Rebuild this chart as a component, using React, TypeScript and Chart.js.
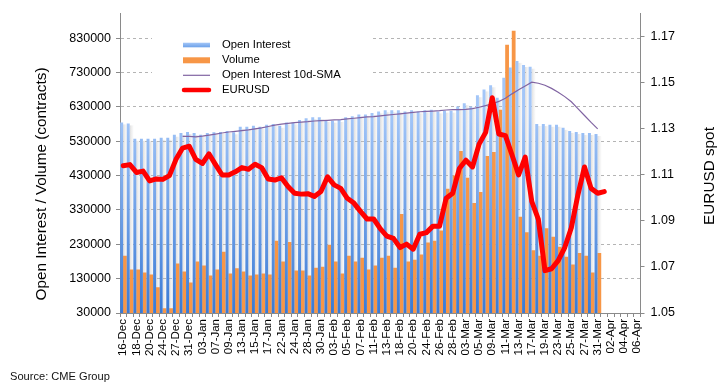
import React, { useEffect, useRef } from 'react';
import { Chart, registerables } from 'chart.js';

Chart.register(...registerables);

const categories = [
  '16-Dec','17-Dec','18-Dec','19-Dec','20-Dec','23-Dec','24-Dec','26-Dec','27-Dec','30-Dec','31-Dec',
  '02-Jan','03-Jan','06-Jan','07-Jan','08-Jan','09-Jan','10-Jan','13-Jan','14-Jan','15-Jan','16-Jan','17-Jan',
  '21-Jan','22-Jan','23-Jan','24-Jan','27-Jan','28-Jan','29-Jan','30-Jan','31-Jan',
  '03-Feb','04-Feb','05-Feb','06-Feb','07-Feb','10-Feb','11-Feb','12-Feb','13-Feb','14-Feb',
  '18-Feb','19-Feb','20-Feb','21-Feb','24-Feb','25-Feb','26-Feb','27-Feb','28-Feb',
  '02-Mar','03-Mar','04-Mar','05-Mar','06-Mar','09-Mar','10-Mar','11-Mar','12-Mar','13-Mar',
  '16-Mar','17-Mar','18-Mar','19-Mar','20-Mar','23-Mar','24-Mar','25-Mar','26-Mar','27-Mar','30-Mar','31-Mar',
  '01-Apr','02-Apr','03-Apr','04-Apr','05-Apr','06-Apr'
];

const openInterest = [
  585000, 582000, 537000, 537000, 537000, 537000, 540000, 540000, 549000, 554000,
  557000, 554000, 549000, 554000, 556000, 557000, 560000, 556000, 572000, 572000,
  575000, 572000, 578000, 580000, 575000, 585000, 585000, 592000, 597000, 600000,
  600000, 592000, 590000, 592000, 600000, 603000, 608000, 608000, 612000, 617000,
  620000, 620000, 620000, 617000, 620000, 617000, 620000, 622000, 617000, 619000,
  619000, 631000, 641000, 631000, 664000, 681000, 693000, 657000, 715000, 745000,
  764000, 752000, 747000, 580000, 580000, 578000, 578000, 569000, 560000, 557000,
  554000, 554000, 551000
];

const volume = [
  197000, 157000, 157000, 148000, 142000, 105000, 44000, 44000, 174000, 151000,
  119000, 180000, 168000, 139000, 157000, 208000, 145000, 160000, 151000, 139000,
  142000, 145000, 142000, 240000, 180000, 237000, 154000, 154000, 139000, 162000,
  165000, 229000, 180000, 145000, 197000, 180000, 191000, 157000, 168000, 191000,
  197000, 162000, 318000, 180000, 185000, 200000, 235000, 240000, 270000, 392000,
  430000, 502000, 424000, 350000, 382000, 487000, 499000, 622000, 811000, 852000,
  310000, 265000, 213000, 197000, 277000, 252000, 223000, 194000, 171000, 205000,
  197000, 148000, 205000
];

const oiSma10d = [
  null, null, null, null, null, null, null, null, null, 544000,
  544000, 543000, 545000, 548000, 551000, 554000, 557000, 559000, 561000, 563000,
  566000, 569000, 573000, 577000, 580000, 582000, 584000, 586000, 587000, 589000,
  590000, 591000, 592000, 593000, 595000, 597000, 599000, 601000, 602000, 604000,
  606000, 608000, 610000, 612000, 614000, 616000, 617000, 618000, 619000, 621000,
  622000, 622000, 623000, 625000, 629000, 634000, 639000, 646000, 655000, 668000,
  680000, 691000, 702000, 699000, 693000, 684000, 673000, 660000, 645000, 625000,
  605000, 585000, 566000
];

const eurusd = [
  1.1139, 1.1144, 1.1110, 1.1116, 1.1073, 1.1082, 1.1080, 1.1096, 1.1167, 1.1216,
  1.1224, 1.1167, 1.1149, 1.1191, 1.1144, 1.1099, 1.1099, 1.1113, 1.1131, 1.1124,
  1.1146, 1.1131, 1.1082, 1.1077, 1.1087, 1.1049, 1.1020, 1.1016, 1.1018, 1.1006,
  1.1027, 1.1091, 1.1056, 1.1041, 1.0998, 1.0977, 1.0941, 1.0908, 1.0908, 1.0866,
  1.0834, 1.0824, 1.0784, 1.0799, 1.0777, 1.0842, 1.0849, 1.0877, 1.0877, 1.0998,
  1.1020, 1.1127, 1.1163, 1.1134, 1.1233, 1.1284, 1.1434, 1.1277, 1.1270, 1.1186,
  1.1099, 1.1177, 1.0984, 1.0906, 1.0684, 1.0692, 1.0727, 1.0784, 1.0870, 1.1013,
  1.1134, 1.1041, 1.1020, 1.1027
];

const leftTicks = [30000, 130000, 230000, 330000, 430000, 530000, 630000, 730000, 830000];
const rightTicks = [1.05, 1.07, 1.09, 1.11, 1.13, 1.15, 1.17];

const FONT = '"Liberation Sans", Arial, sans-serif';

export default function App() {
  const ref = useRef<HTMLCanvasElement>(null);

  useEffect(() => {
    const canvas = ref.current;
    if (!canvas) return;

    const blueFill = (ctx: any) => {
      const chart = ctx.chart;
      const a = chart.chartArea;
      if (!a) return '#7aa9ee';
      const g = chart.ctx.createLinearGradient(0, a.top + 100, 0, a.bottom);
      g.addColorStop(0, '#a3c6f8');
      g.addColorStop(1, '#3a7ad5');
      return g;
    };

    const shadowPlugin = {
      id: 'barShadow',
      beforeDatasetsDraw(chart: any) {
        const meta = chart.getDatasetMeta(0);
        const ctx = chart.ctx;
        const bottom = chart.chartArea.bottom;
        ctx.save();
        meta.data.forEach((bar: any) => {
          const p = bar.getProps(['x', 'y', 'width'], true);
          const x0 = p.x + p.width / 2;
          const g = ctx.createLinearGradient(x0, 0, x0 + 3.8, 0);
          g.addColorStop(0, 'rgba(175,175,175,0.42)');
          g.addColorStop(1, 'rgba(215,215,215,0.12)');
          ctx.fillStyle = g;
          ctx.fillRect(x0, p.y + 2, 3.8, bottom - p.y - 2);
        });
        ctx.restore();
      },
    };

    const decoPlugin = {
      id: 'deco',
      afterDraw(chart: any) {
        const ctx = chart.ctx;
        ctx.save();
        // legend
        ctx.fillStyle = '#ffffff';
        ctx.fillRect(152, 37, 218, 62);
        const lx0 = 183, lx1 = 210, tx = 222;
        const rows = [45, 60.3, 75.3, 90];
        const lg = ctx.createLinearGradient(0, rows[0] - 2.5, 0, rows[0] + 2.5);
        lg.addColorStop(0, '#a6c8f8');
        lg.addColorStop(1, '#6a9fe8');
        ctx.fillStyle = lg;
        ctx.fillRect(lx0, rows[0] - 2.3, lx1 - lx0, 4.6);
        ctx.fillStyle = '#f79646';
        ctx.fillRect(lx0, rows[1] - 3, lx1 - lx0, 6);
        ctx.strokeStyle = '#8064a2';
        ctx.lineWidth = 1.2;
        ctx.beginPath();
        ctx.moveTo(lx0, rows[2]);
        ctx.lineTo(lx1, rows[2]);
        ctx.stroke();
        ctx.strokeStyle = '#ff0000';
        ctx.lineWidth = 4.5;
        ctx.lineCap = 'round';
        ctx.beginPath();
        ctx.moveTo(lx0 + 1, rows[3]);
        ctx.lineTo(lx1 - 1, rows[3]);
        ctx.stroke();
        ctx.fillStyle = '#000';
        ctx.font = `11.3px ${FONT}`;
        ctx.textBaseline = 'middle';
        ctx.textAlign = 'left';
        ['Open Interest', 'Volume', 'Open Interest 10d-SMA', 'EURUSD'].forEach((t, i) => {
          ctx.fillText(t, tx, rows[i]);
        });
        // axis titles
        ctx.font = `15.3px ${FONT}`;
        ctx.textAlign = 'center';
        ctx.textBaseline = 'middle';
        ctx.save();
        ctx.translate(42, 184);
        ctx.rotate(-Math.PI / 2);
        ctx.fillText('Open Interest / Volume (contracts)', 0, 0);
        ctx.restore();
        ctx.save();
        ctx.translate(710, 176);
        ctx.rotate(-Math.PI / 2);
        ctx.fillText('EURUSD spot', 0, 0);
        ctx.restore();
        // source
        ctx.font = `11.1px ${FONT}`;
        ctx.textAlign = 'left';
        ctx.fillStyle = '#111';
        ctx.fillText('Source: CME Group', 10, 377);
        ctx.restore();
      },
    };

    const chart = new Chart(canvas, {
      type: 'bar',
      data: {
        labels: categories,
        datasets: [
          {
            type: 'bar',
            label: 'Open Interest',
            data: openInterest,
            yAxisID: 'y',
            backgroundColor: blueFill,
            order: 2,
            barPercentage: 0.9,
            categoryPercentage: 1,
          } as any,
          {
            type: 'bar',
            label: 'Volume',
            data: volume,
            yAxisID: 'y',
            backgroundColor: '#f79646',
            order: 2,
            barPercentage: 1.15,
            categoryPercentage: 1,
          } as any,
          {
            type: 'line',
            label: 'Open Interest 10d-SMA',
            data: oiSma10d,
            yAxisID: 'y',
            borderColor: '#8064a2',
            borderWidth: 1.2,
            pointRadius: 0,
            order: 1,
          } as any,
          {
            type: 'line',
            label: 'EURUSD',
            data: eurusd,
            yAxisID: 'y1',
            borderColor: '#ff0000',
            borderWidth: 5,
            pointRadius: 0,
            borderJoinStyle: 'round',
            borderCapStyle: 'round',
            order: 0,
          } as any,
        ],
      },
      options: {
        responsive: false,
        animation: false,
        events: [],
        layout: { padding: { top: 10, left: 0, right: 0, bottom: 0 } },
        plugins: { legend: { display: false }, tooltip: { enabled: false } },
        scales: {
          x: {
            type: 'category',
            offset: true,
            grid: {
              display: true,
              drawOnChartArea: false,
              drawTicks: true,
              tickLength: 4,
              tickColor: '#8a8a8a',
              offset: true,
            },
            border: { color: '#8a8a8a', width: 1 },
            ticks: {
              autoSkip: false,
              minRotation: 90,
              maxRotation: 90,
              padding: 2,
              color: '#000',
              font: { family: FONT, size: 11.5 },
              callback: (_v: any, i: number) => (i % 2 === 0 ? categories[i] : ''),
            },
            afterFit: (s: any) => {
              s.height = 77;
            },
          },
          y: {
            type: 'linear',
            position: 'left',
            min: 30000,
            max: 902000,
            afterBuildTicks: (s: any) => {
              s.ticks = leftTicks.map((v) => ({ value: v }));
            },
            grid: {
              color: '#b4b4b4',
              lineWidth: 1,
              drawTicks: true,
              tickLength: 4,
              tickColor: '#8a8a8a',
              tickBorderDash: [],
            },
            border: { color: '#8a8a8a', width: 1, dash: [3, 3] },
            ticks: {
              padding: 5,
              color: '#000',
              font: { family: FONT, size: 12.5 },
              callback: (v: any) => String(v),
            },
            afterFit: (s: any) => {
              s.width = 120;
            },
          },
          y1: {
            type: 'linear',
            position: 'right',
            min: 1.05,
            max: 1.18,
            afterBuildTicks: (s: any) => {
              s.ticks = rightTicks.map((v) => ({ value: v }));
            },
            grid: {
              drawOnChartArea: false,
              drawTicks: true,
              tickLength: 4,
              tickColor: '#8a8a8a',
            },
            border: { color: '#8a8a8a', width: 1 },
            ticks: {
              padding: 6,
              color: '#000',
              font: { family: FONT, size: 12.5 },
              callback: (v: any) => Number(v).toFixed(2),
            },
            afterFit: (s: any) => {
              s.width = 86.5;
            },
          },
        },
      } as any,
      plugins: [shadowPlugin, decoPlugin],
    });

    return () => chart.destroy();
  }, []);

  return (
    <div style={{ position: 'absolute', left: 0, top: 0, width: 727, height: 390, background: '#fff' }}>
      <canvas ref={ref} width={727} height={390} style={{ width: 727, height: 390, display: 'block' }} />
    </div>
  );
}
